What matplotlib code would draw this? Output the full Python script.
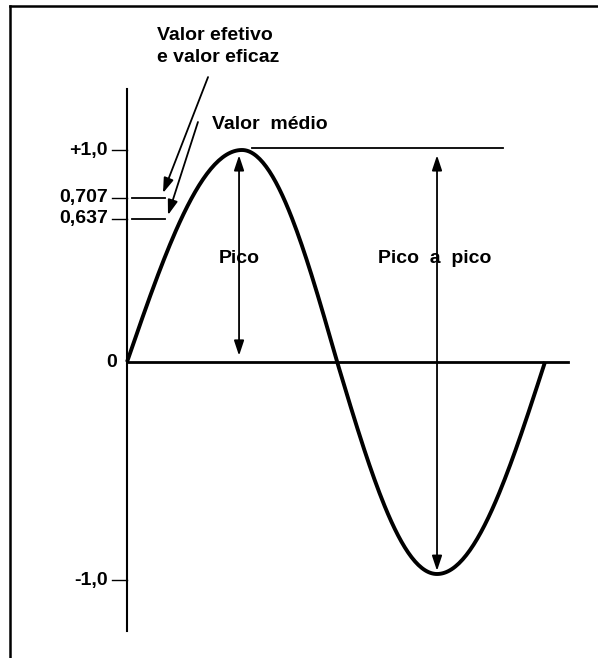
import numpy as np
import matplotlib
matplotlib.use("Agg")
from matplotlib import pyplot as plt
from matplotlib.lines import Line2D

plt.rcParams['font.family'] = ['Liberation Sans', 'DejaVu Sans']

# pontos-chave da senoide (fase em graus, valor)
key_phase = [0, 99, 181, 267, 360]
key_value = [0.0, 1.0, 0.0, -1.0, 0.0]

tick_levels = [1.0, 0.774, 0.675, 0.0, -1.03]   # posicoes como desenhadas
tick_labels = ["+1,0", "0,707", "0,637", "0", "-1,0"]
marker_levels = [0.774, 0.675]                  # tracinhos efetivo / medio

# cada quarto de onda com forma senoidal entre os pontos-chave
xs, ys = [], []
for i in range(4):
    t = np.linspace(0, 1, 60)
    a, b = key_value[i], key_value[i + 1]
    shape = np.sin(t * np.pi / 2) if a == 0 else 1 - np.cos(t * np.pi / 2)
    xs.append(key_phase[i] + t * (key_phase[i + 1] - key_phase[i]))
    ys.append(a + (b - a) * shape)
wave_x = np.concatenate(xs)
wave_y = np.concatenate(ys)

# mapeamento pixel -> dados (eixo ocupa a figura toda)
W, H = 598, 658
x0_px, px_per_deg = 127, 418 / 360
y0_px, px_per_unit = 362, 212

fig = plt.figure(figsize=(W / 100, H / 100), dpi=100)
ax = fig.add_axes([0, 0, 1, 1])
ax.set_xlim(-x0_px / px_per_deg, (W - x0_px) / px_per_deg)
ax.set_ylim(-(H - y0_px) / px_per_unit, y0_px / px_per_unit)
ax.axis("off")

# moldura (so topo e esquerda aparecem)
fig.add_artist(Line2D([10 / W, 1], [1 - 6 / H, 1 - 6 / H], color="black", lw=1.8))
fig.add_artist(Line2D([10 / W, 10 / W], [0, 1 - 6 / H], color="black", lw=1.8))

# eixos
ax.plot([0, 0], [-1.27, 1.29], color="black", lw=1.5)
ax.plot([0, 380], [0, 0], color="black", lw=2.0)

# senoide
ax.plot(wave_x, wave_y, color="black", lw=2.8, solid_capstyle="butt")

# marcas e rotulos do eixo vertical
lab_font = dict(fontsize=14, fontweight="bold")
for lvl, lab in zip(tick_levels, tick_labels):
    if lab != "0":
        ax.plot([-13, 0], [lvl, lvl], color="black", lw=1.0)
        ax.text(-16.5, lvl, lab, ha="right", va="center", **lab_font)
    else:
        ax.text(-8.5, lvl, lab, ha="right", va="center", **lab_font)

for lvl in marker_levels:
    ax.plot([4.3, 32.7], [lvl, lvl], color="black", lw=1.3)

# linha horizontal do pico
ax.plot([107.7, 323.8], [1.01, 1.01], color="black", lw=1.3)

head = dict(arrowstyle="<|-|>,head_length=0.9,head_width=0.3", color="black",
            lw=1.3, shrinkA=0, shrinkB=0)
ax.annotate("", xy=(96.5, 0.975), xytext=(96.5, 0.03), arrowprops=head)
ax.annotate("", xy=(267, 0.975), xytext=(267, -0.985), arrowprops=head)

single = dict(arrowstyle="-|>,head_length=0.9,head_width=0.3", color="black",
              lw=1.3, shrinkA=0, shrinkB=0)
ax.annotate("", xy=(31, 0.797), xytext=(69.8, 1.344), arrowprops=single)
ax.annotate("", xy=(35.3, 0.693), xytext=(61.1, 1.132), arrowprops=single)

# textos
txt = dict(fontsize=14, fontweight="bold")
ax.text(25.8, 1.542, "Valor efetivo", ha="left", va="center", **txt)
ax.text(25.8, 1.434, "e valor eficaz", ha="left", va="center", **txt)
ax.text(73.2, 1.118, "Valor  médio", ha="left", va="center", **txt)
ax.text(96.5, 0.486, "Pico", ha="center", va="center", **txt)
ax.text(265, 0.486, "Pico  a  pico", ha="center", va="center", **txt)

fig.savefig("out.png", dpi=100)
